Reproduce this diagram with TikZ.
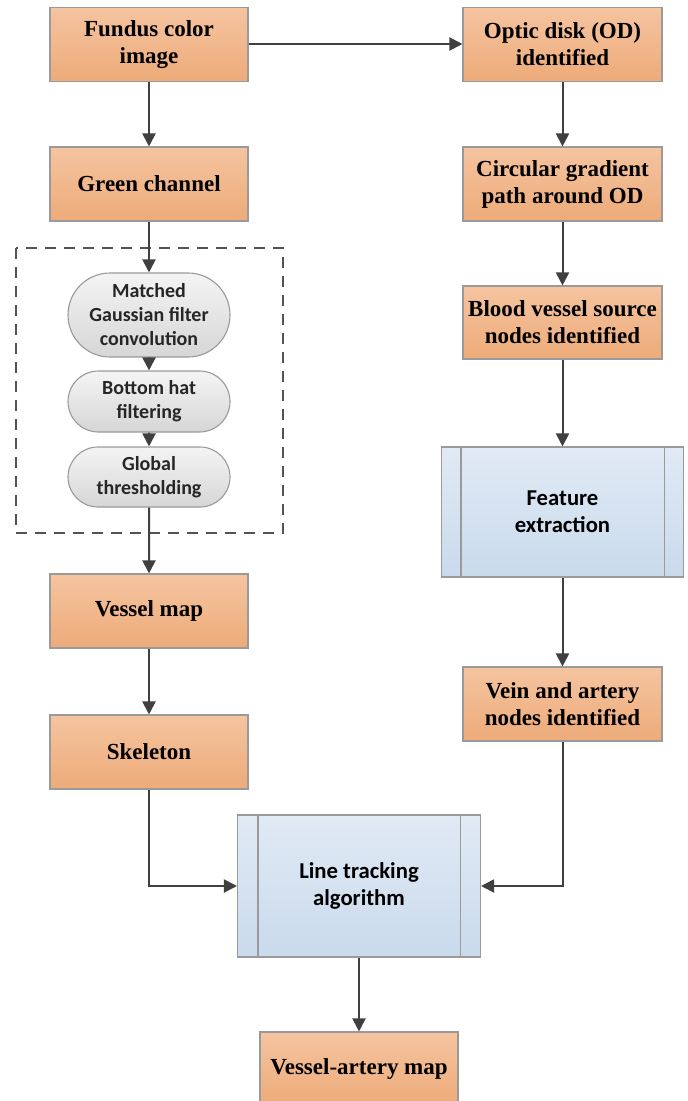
\documentclass[tikz,border=0pt]{standalone}
\usepackage{fontspec}
\setmainfont{Liberation Serif}
\newfontfamily\calfont{Carlito}
\usetikzlibrary{arrows.meta,shapes.misc}
\definecolor{orTop}{HTML}{F5C4A0}
\definecolor{orBot}{HTML}{EDAB79}
\definecolor{blTop}{HTML}{E1EAF5}
\definecolor{blBot}{HTML}{C9DAEC}
\definecolor{pgTop}{HTML}{F4F4F4}
\definecolor{pgBot}{HTML}{D6D6D6}
\definecolor{edgeC}{HTML}{9A9A9A}
\definecolor{arrC}{HTML}{404040}
\tikzset{
  orbox/.style={rectangle, draw=edgeC, line width=1.1pt, top color=orTop, bottom color=orBot,
    minimum width=198pt, minimum height=74pt, align=center, inner sep=0pt,
    font=\fontsize{23}{27}\selectfont\bfseries},
  blbox/.style={rectangle, draw=edgeC, line width=1.1pt, top color=blTop, bottom color=blBot,
    align=center, inner sep=0pt, font=\fontsize{22.7}{27}\selectfont\calfont\bfseries},
  pill/.style={rounded rectangle, draw=edgeC, line width=1.1pt, top color=pgTop, bottom color=pgBot,
    minimum width=162pt, align=center, inner sep=0pt, text=black!85,
    font=\fontsize{20}{24}\selectfont\calfont\bfseries},
  conn/.style={draw=arrC, line width=2pt, -{Triangle[length=13pt,width=13pt]}},
  plain/.style={draw=arrC, line width=2pt}
}
\begin{document}
\begin{tikzpicture}[x=1pt,y=-1pt]
\useasboundingbox (0,0) rectangle (688,1101);
\clip (0,0) rectangle (688,1101);
% left column
\node[orbox] (fundus) at (149,44.5) {Fundus color\\image};
\node[orbox] (green) at (149,184) {Green channel};
\node[pill, minimum height=84pt] (matched) at (149,315) {Matched\\Gaussian filter\\convolution};
\node[pill, minimum height=61pt] (bottom) at (149,401.5) {Bottom hat\\filtering};
\node[pill, minimum height=60pt] (global) at (149,477) {Global\\thresholding};
\node[orbox] (vmap) at (149,611) {Vessel map};
\node[orbox] (skel) at (149,752) {Skeleton};
% right column
\node[orbox, minimum width=199pt] (optic) at (562.5,44.5) {Optic disk (OD)\\identified};
\node[orbox, minimum width=199pt] (circ) at (562.5,184) {Circular gradient\\path around OD};
\node[orbox, minimum width=199pt, minimum height=73pt] (blood) at (562.5,322.5) {Blood vessel source\\nodes identified};
\node[blbox, minimum width=242pt, minimum height=130pt] (feat) at (562.5,512) {Feature\\extraction};
\node[orbox, minimum width=199pt] (vein) at (562.5,704) {Vein and artery\\nodes identified};
% bottom
\node[blbox, minimum width=243pt, minimum height=142pt] (line) at (359,886) {Line tracking\\algorithm};
\node[orbox] (vart) at (359,1069) {Vessel-artery map};
% inner lines of the process boxes
\draw[edgeC, line width=1.1pt] ([xshift=20pt]feat.north west) -- ([xshift=20pt]feat.south west);
\draw[edgeC, line width=1.1pt] ([xshift=-20pt]feat.north east) -- ([xshift=-20pt]feat.south east);
\draw[edgeC, line width=1.1pt] ([xshift=21pt]line.north west) -- ([xshift=21pt]line.south west);
\draw[edgeC, line width=1.1pt] ([xshift=-21pt]line.north east) -- ([xshift=-21pt]line.south east);
% dashed group
\coordinate (dA) at (16,248);
\coordinate (dB) at (283,533);
\draw[draw=arrC!90, line width=2pt, dash pattern=on 11pt off 8pt] (dA) rectangle (dB);
% connectors
\draw[conn] (fundus) -- (green);
\draw[conn] (fundus.east |- 0,44) -- (optic.west |- 0,44);
\draw[conn] (green) -- (matched);
\draw[conn] (matched) -- (bottom);
\draw[conn] (bottom) -- (global);
\draw[conn] (global) -- (vmap);
\draw[conn] (vmap) -- (skel);
\draw[conn] (optic) -- (circ);
\draw[conn] (circ) -- (blood);
\draw[conn] (blood) -- (feat);
\draw[conn] (feat) -- (vein);
\draw[conn] (skel.south) |- (line.west);
\draw[conn] (vein.south) |- (line.east);
\draw[conn] (line) -- (vart);
\end{tikzpicture}
\end{document}
